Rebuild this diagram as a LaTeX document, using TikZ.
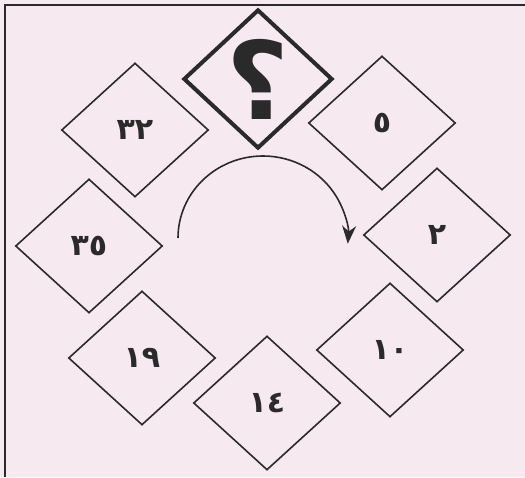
\documentclass[tikz,border=0pt]{standalone}
\usepackage{fontspec}
\newfontfamily\arabicfont[Script=Arabic]{DejaVu Sans}
\usetikzlibrary{shapes.geometric,arrows.meta}
\definecolor{PaperPink}{HTML}{F6EAF0}
\definecolor{InkGrey}{HTML}{2A2A2A}

\begin{document}
\begin{tikzpicture}[x=0.5pt,y=0.5pt,
  card/.style={diamond,draw=InkGrey,line width=0.8pt,minimum width=73.5pt,
               minimum height=67pt,inner sep=0pt,text=InkGrey,
               font=\arabicfont\bfseries\fontsize{15}{15}\selectfont},
  target/.style={card,line width=2pt,minimum width=74.5pt,minimum height=69.5pt},
  arrow/.style={-{Stealth[length=9pt,width=7pt]},line width=0.8pt,draw=InkGrey}
]
\fill[PaperPink] (0,0) rectangle (525,477);
\useasboundingbox (0,0) rectangle (525,477);
\draw[line width=1pt,draw=InkGrey] (5,0) -- (5,472) -- (525,472);

\node[target,label={[font=\arabicfont\bfseries\fontsize{54}{54}\selectfont,text=InkGrey]center:؟}] (q) at (258,398) {};
\node[card] (n32) at (135,347) {٣٢};
\node[card] (n5)  at (382,354) {٥};
\node[card] (n35) at (89,231)  {٣٥};
\node[card] (n2)  at (437,242) {٢};
\node[card] (n19) at (142,119) {١٩};
\node[card] (n10) at (390,127) {١٠};
\node[card] (n14) at (267,74)  {١٤};

\coordinate (sweep) at (178,239);
\draw[arrow] (sweep) arc[start angle=180,end angle=-4,x radius=85,y radius=82];
\end{tikzpicture}
\end{document}
